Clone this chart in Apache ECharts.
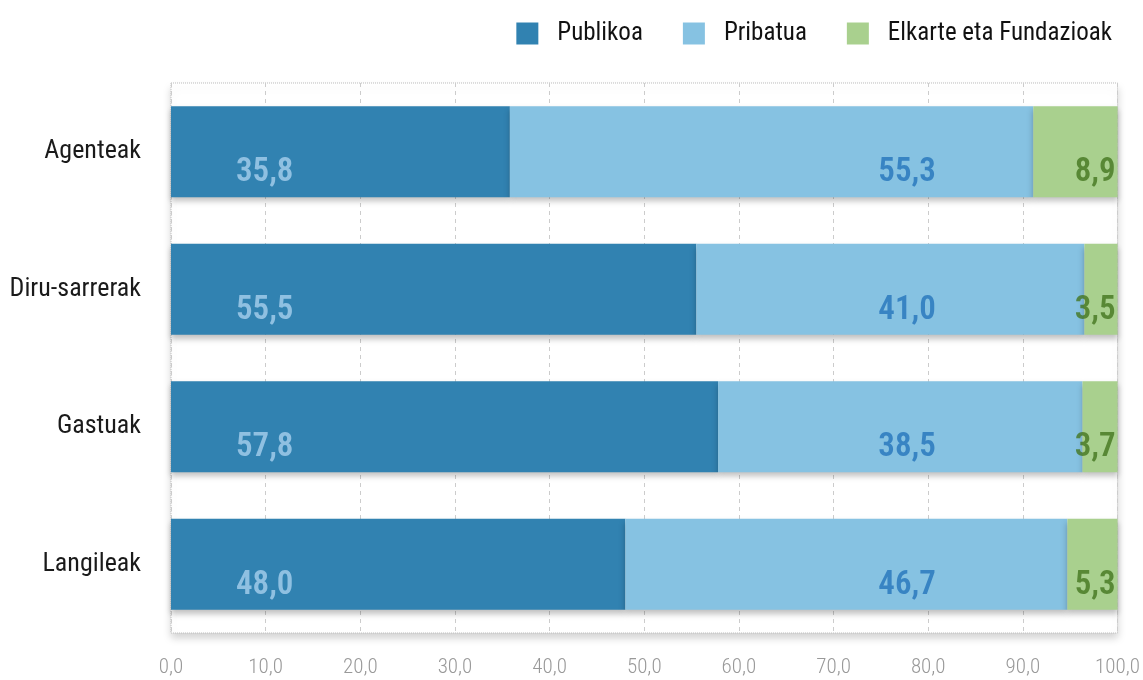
<!DOCTYPE html>
<html>
<head>
<meta charset="utf-8">
<script src="https://cdn.jsdelivr.net/npm/echarts@6/dist/echarts.min.js"></script>
<style>
  html, body { margin: 0; padding: 0; background: #fff; }
  #chart { width: 1143px; height: 680px; }
</style>
</head>
<body>
<div id="chart"></div>
<script>
var categories = ['Agenteak', 'Diru-sarrerak', 'Gastuak', 'Langileak'];
var publikoa = [35.8, 55.5, 57.8, 48.0];
var pribatua = [55.3, 41.0, 38.5, 46.7];
var elkarteak = [8.9, 3.5, 3.7, 5.3];
var seriesNames = ['Publikoa', 'Pribatua', 'Elkarte eta Fundazioak'];

var FONT = "'Roboto Condensed', 'Liberation Sans Narrow', 'DejaVu Sans Condensed', Roboto, sans-serif";
var colors = ['#3182b1', '#86c2e2', '#a9d08e'];
var labelColors = ['#a8d0ee', '#2474bb', '#44761f'];

function fmt(v) { return v.toFixed(1).replace('.', ','); }

var barShadow = { shadowColor: 'rgba(0,0,0,0.25)', shadowBlur: 6, shadowOffsetY: 4 };

function barSeries(name, data, color) {
    return {
        name: name,
        type: 'bar',
        stack: 'total',
        barWidth: 91,
        data: data,
        itemStyle: Object.assign({ color: color }, barShadow),
        emphasis: { disabled: true }
    };
}

// label anchors along the x axis (value scale) for each series
var labelX = [9.9, 80.8, 99.8];
var labelAlign = ['center', 'right', 'right'];

function labelSeries(i, values) {
    return {
        type: 'scatter',
        symbolSize: 0,
        silent: true,
        z: 10,
        data: categories.map(function (c, k) { return [labelX[i], c, values[k]]; }),
        label: {
            show: true,
            position: 'inside',
            align: labelAlign[i],
            offset: [0, 21],
            formatter: function (p) { return fmt(p.value[2]); },
            color: labelColors[i],
            fontFamily: FONT,
            fontSize: 33,
            fontWeight: 600
        }
    };
}

var myChart = echarts.init(document.getElementById('chart'));
var option = {
    animation: false,
    color: colors,
    legend: {
        data: seriesNames,
        right: 26,
        top: 16,
        itemWidth: 22,
        itemHeight: 22,
        itemGap: 40,
        icon: 'rect',
        textStyle: { fontFamily: FONT, fontSize: 25, color: '#111', padding: [0, 0, 0, 14] }
    },
    grid: {
        left: 171,
        right: 24,
        top: 83,
        bottom: 47,
        show: true,
        backgroundColor: '#fff',
        borderColor: '#bbb',
        borderWidth: 1,
        borderType: 'dotted',
        shadowColor: 'rgba(0,0,0,0.18)',
        shadowBlur: 8,
        shadowOffsetY: 5
    },
    xAxis: {
        type: 'value',
        min: 0,
        max: 100,
        interval: 10,
        axisLine: { show: false },
        axisTick: { show: false },
        axisLabel: {
            formatter: fmt,
            color: '#999',
            fontFamily: FONT,
            fontSize: 21,
            fontWeight: 300,
            margin: 24
        },
        splitLine: { lineStyle: { color: '#ccc', type: [4, 4] } }
    },
    yAxis: {
        type: 'category',
        data: categories,
        inverse: true,
        axisLine: { show: false },
        axisTick: { show: false },
        axisLabel: { color: '#1a1a1a', fontFamily: FONT, fontSize: 26, margin: 30 }
    },
    series: [
        barSeries(seriesNames[0], publikoa, colors[0]),
        barSeries(seriesNames[1], pribatua, colors[1]),
        barSeries(seriesNames[2], elkarteak, colors[2]),
        labelSeries(0, publikoa),
        labelSeries(1, pribatua),
        labelSeries(2, elkarteak)
    ]
};
myChart.setOption(option);
</script>
</body>
</html>
